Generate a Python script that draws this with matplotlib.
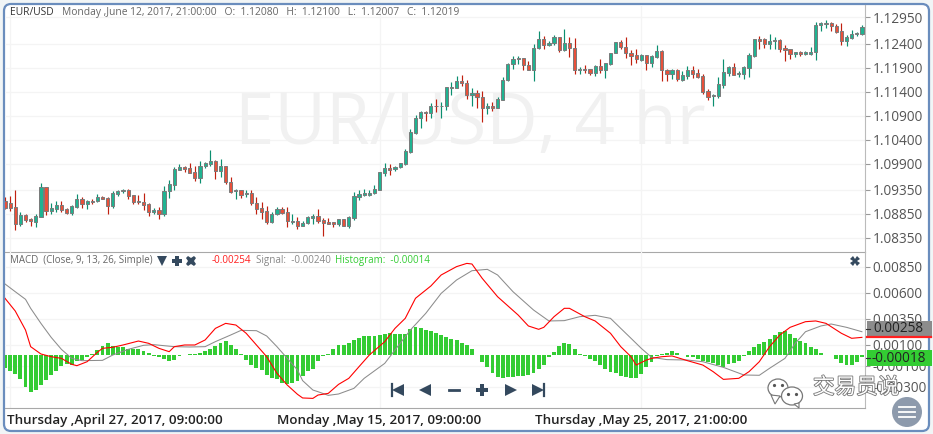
import numpy as np
import matplotlib
matplotlib.use('Agg')
import matplotlib.pyplot as plt
import matplotlib.patheffects as pe
from matplotlib.patches import FancyBboxPatch, Circle, Rectangle, Ellipse, Polygon
from matplotlib.transforms import ScaledTranslation

plt.rcParams['font.family'] = ['Open Sans', 'DejaVu Sans']

# precios (EUR/USD, 4 hr)
opens = [1.0912,1.0907,1.0899,1.0865,1.0883,1.0874,1.0869,1.0879,1.0941,1.0892,
         1.0895,1.0904,1.0895,1.0888,1.0900,1.0916,1.0906,1.0913,1.0913,1.0920,
         1.0918,1.0902,1.0927,1.0932,1.0936,1.0924,1.0912,1.0910,1.0905,1.0890,
         1.0893,1.0884,1.0932,1.0945,1.0977,1.0982,1.0980,1.0972,1.0961,1.0986,
         1.0990,1.0995,1.0975,1.0986,1.0951,1.0933,1.0934,1.0926,1.0928,1.0907,
         1.0897,1.0891,1.0869,1.0884,1.0895,1.0889,1.0868,1.0870,1.0861,1.0867,
         1.0877,1.0881,1.0872,1.0868,1.0868,1.0864,1.0874,1.0861,1.0877,1.0921,
         1.0925,1.0925,1.0928,1.0935,1.0971,1.0980,1.0979,1.0982,1.0990,1.1015,
         1.1054,1.1084,1.1097,1.1096,1.1111,1.1109,1.1111,1.1147,1.1148,1.1163,
         1.1157,1.1132,1.1138,1.1128,1.1105,1.1109,1.1105,1.1123,1.1165,1.1197,
         1.1207,1.1209,1.1195,1.1186,1.1230,1.1249,1.1238,1.1241,1.1253,1.1227,
         1.1241,1.1230,1.1186,1.1188,1.1188,1.1179,1.1193,1.1186,1.1198,1.1220,
         1.1243,1.1232,1.1220,1.1216,1.1206,1.1216,1.1200,1.1213,1.1225,1.1186,
         1.1177,1.1185,1.1164,1.1173,1.1186,1.1178,1.1172,1.1142,1.1130,1.1131,
         1.1154,1.1179,1.1191,1.1176,1.1177,1.1190,1.1215,1.1249,1.1249,1.1239,
         1.1245,1.1247,1.1230,1.1228,1.1218,1.1222,1.1219,1.1219,1.1222,1.1278,
         1.1280,1.1283,1.1277,1.1266,1.1245,1.1252,1.1259,1.1261]
highs = [1.0920,1.0922,1.0935,1.0889,1.0886,1.0876,1.0886,1.0950,1.0941,1.0907,
         1.0912,1.0912,1.0897,1.0903,1.0927,1.0921,1.0914,1.0916,1.0927,1.0922,
         1.0921,1.0932,1.0934,1.0938,1.0937,1.0925,1.0925,1.0929,1.0907,1.0898,
         1.0899,1.0943,1.0956,1.0982,1.0989,1.0986,1.0991,1.0984,1.0995,1.0994,
         1.1018,1.0998,1.1000,1.0986,1.0963,1.0938,1.0936,1.0934,1.0935,1.0921,
         1.0909,1.0902,1.0890,1.0899,1.0900,1.0900,1.0885,1.0879,1.0870,1.0881,
         1.0886,1.0895,1.0876,1.0876,1.0868,1.0875,1.0875,1.0881,1.0931,1.0936,
         1.0937,1.0936,1.0945,1.0972,1.0991,1.0989,1.0985,1.0991,1.1020,1.1062,
         1.1091,1.1100,1.1100,1.1117,1.1125,1.1119,1.1149,1.1161,1.1172,1.1175,
         1.1164,1.1147,1.1143,1.1142,1.1116,1.1118,1.1128,1.1170,1.1199,1.1214,
         1.1214,1.1211,1.1203,1.1239,1.1266,1.1256,1.1246,1.1258,1.1254,1.1270,
         1.1253,1.1252,1.1192,1.1195,1.1188,1.1195,1.1207,1.1199,1.1221,1.1243,
         1.1247,1.1254,1.1227,1.1229,1.1218,1.1216,1.1216,1.1237,1.1227,1.1188,
         1.1187,1.1187,1.1182,1.1193,1.1194,1.1187,1.1177,1.1145,1.1135,1.1170,
         1.1208,1.1194,1.1200,1.1182,1.1193,1.1220,1.1249,1.1256,1.1251,1.1260,
         1.1253,1.1250,1.1237,1.1229,1.1223,1.1225,1.1225,1.1232,1.1286,1.1284,
         1.1289,1.1284,1.1280,1.1282,1.1258,1.1268,1.1265,1.1279]
lows = [1.0895,1.0892,1.0852,1.0859,1.0869,1.0859,1.0857,1.0879,1.0883,1.0886,
        1.0890,1.0890,1.0885,1.0883,1.0897,1.0897,1.0895,1.0906,1.0909,1.0916,
        1.0886,1.0897,1.0923,1.0928,1.0916,1.0906,1.0906,1.0893,1.0881,1.0886,
        1.0875,1.0881,1.0918,1.0935,1.0977,1.0973,1.0971,1.0954,1.0949,1.0980,
        1.0986,1.0958,1.0963,1.0948,1.0929,1.0916,1.0918,1.0920,1.0903,1.0885,
        1.0875,1.0865,1.0867,1.0882,1.0885,1.0858,1.0864,1.0854,1.0860,1.0865,
        1.0864,1.0867,1.0839,1.0864,1.0858,1.0861,1.0861,1.0856,1.0872,1.0914,
        1.0923,1.0923,1.0927,1.0934,1.0965,1.0966,1.0975,1.0980,1.0987,1.1013,
        1.1052,1.1065,1.1079,1.1086,1.1098,1.1084,1.1102,1.1132,1.1147,1.1152,
        1.1124,1.1109,1.1105,1.1077,1.1093,1.1100,1.1105,1.1123,1.1163,1.1187,
        1.1198,1.1184,1.1184,1.1163,1.1228,1.1229,1.1234,1.1238,1.1223,1.1225,
        1.1213,1.1177,1.1177,1.1179,1.1175,1.1172,1.1179,1.1169,1.1196,1.1220,
        1.1229,1.1211,1.1196,1.1199,1.1204,1.1185,1.1192,1.1209,1.1163,1.1163,
        1.1166,1.1163,1.1162,1.1167,1.1168,1.1168,1.1136,1.1123,1.1110,1.1127,
        1.1147,1.1172,1.1175,1.1171,1.1166,1.1170,1.1212,1.1228,1.1230,1.1229,
        1.1229,1.1223,1.1204,1.1208,1.1213,1.1215,1.1216,1.1216,1.1206,1.1266,
        1.1273,1.1266,1.1263,1.1237,1.1235,1.1249,1.1256,1.1257]
closes = [1.0897,1.0898,1.0865,1.0883,1.0872,1.0870,1.0880,1.0941,1.0892,1.0897,
          1.0904,1.0893,1.0888,1.0902,1.0916,1.0906,1.0913,1.0911,1.0920,1.0917,
          1.0902,1.0928,1.0932,1.0936,1.0923,1.0911,1.0909,1.0904,1.0890,1.0893,
          1.0884,1.0932,1.0947,1.0978,1.0982,1.0979,1.0971,1.0961,1.0986,1.0991,
          1.0995,1.0975,1.0986,1.0951,1.0931,1.0934,1.0925,1.0928,1.0907,1.0895,
          1.0890,1.0869,1.0884,1.0895,1.0888,1.0870,1.0870,1.0861,1.0867,1.0878,
          1.0881,1.0871,1.0867,1.0865,1.0865,1.0874,1.0861,1.0878,1.0922,1.0926,
          1.0929,1.0929,1.0937,1.0972,1.0980,1.0977,1.0982,1.0991,1.1016,1.1055,
          1.1084,1.1097,1.1095,1.1111,1.1109,1.1111,1.1149,1.1149,1.1163,1.1157,
          1.1132,1.1138,1.1128,1.1105,1.1109,1.1105,1.1124,1.1165,1.1197,1.1207,
          1.1209,1.1195,1.1186,1.1230,1.1249,1.1238,1.1241,1.1253,1.1227,1.1241,
          1.1230,1.1186,1.1188,1.1186,1.1179,1.1193,1.1186,1.1199,1.1220,1.1243,
          1.1232,1.1220,1.1215,1.1207,1.1216,1.1200,1.1214,1.1225,1.1186,1.1177,
          1.1185,1.1166,1.1175,1.1186,1.1177,1.1170,1.1140,1.1129,1.1133,1.1155,
          1.1180,1.1191,1.1175,1.1179,1.1191,1.1216,1.1249,1.1246,1.1239,1.1245,
          1.1247,1.1229,1.1227,1.1218,1.1222,1.1219,1.1222,1.1222,1.1278,1.1282,
          1.1282,1.1276,1.1265,1.1245,1.1253,1.1259,1.1263,1.1274]

# histograma MACD, una barra por vela
histogram = [-.00118,-.0015,-.00182,-.0023,-.00306,-.00351,-.00332,-.00287,-.00236,-.00185,
             -.00147,-.00102,-.00083,-.00089,-.00057,-.00045,-.00013,.0001,.00051,.00089,
             .00115,.00086,.00083,.00077,.00064,.00057,.00057,.00045,.00019,-.00003,
             -.00013,-.00038,-.00054,-.00041,-.0001,.00006,.00013,.00016,.00026,.00038,
             .00064,.00089,.00115,.00137,.00102,.00064,.00016,-.00045,-.00089,-.00121,
             -.0014,-.00185,-.00217,-.0023,-.00262,-.00271,-.00262,-.00242,-.00198,-.00147,
             -.00128,-.00051,-.00006,.00013,.00064,.00096,.00096,.00115,.0015,.00166,
             .00182,.00185,.00188,.00198,.00204,.00211,.00207,.00207,.00207,.00252,
             .00268,.00258,.00242,.0023,.00217,.00198,.00175,.0016,.00144,.00121,
             .00102,.00064,.00006,-.00064,-.00115,-.00169,-.00211,-.00217,-.00207,-.00207,
             -.00201,-.00198,-.00185,-.00166,-.00128,-.00089,-.00019,.00032,.00089,.00121,
             .00112,.00057,.00016,-.00006,-.00038,-.00051,-.00096,-.00134,-.0016,-.00172,
             -.00198,-.00207,-.00217,-.00217,-.00175,-.00112,-.00064,-.00003,.00013,.00026,
             .00045,.00019,.00003,-.00013,-.00019,-.00032,-.00051,-.00064,-.00077,-.00089,
             -.00108,-.00083,-.00077,-.00051,-.0001,.00045,.00083,.00108,.00128,.0016,
             .00198,.00223,.0023,.00204,.00166,.0014,.00115,.00083,.00057,.00019,
             .00006,.00003,-.00038,-.0007,-.00089,-.00089,-.00064,-.00018]

# linea MACD (roja) y signal (gris): numero de vela y valor
macd_bar = [0,2,4,5,7,9,11,13,14,16,18,19,21,23,26,28,30,32,33,35,37,39,41,43,45,47,49,51,53,55,57,58,60,
            61,63,65,67,69,71,74,76,78,80,83,85,88,90,91,93,96,100,102,104,105,107,109,110,113,115,118,120,
            122,123,125,126,128,130,133,136,138,140,143,145,147,149,151,153,156,158,160,163,165,167]
macd_val = [.00546,.00424,.00242,.00083,.00013,-.00013,-.00029,-.00086,-.00099,-.00061,.00029,.00067,.00077,.00099,.00137,.00115,.00067,.00035,.00083,.00099,.00099,.00147,.00258,.00306,.0029,.00211,.00099,-.00013,-.00172,-.00284,-.00373,-.00408,-.00412,
            -.0038,-.00364,-.00278,-.0022,-.00108,.00003,.00131,.00258,.00354,.00546,.00664,.00769,.00849,.0088,.00874,.00737,.00561,.00386,.00281,.00249,.00268,.0037,.0045,.0045,.0037,.00329,.00211,.00083,
            -.00013,-.00093,-.00045,-.00029,-.00013,-.00006,-.00051,-.00093,-.00156,-.0023,-.0022,-.00156,-.00061,.00083,.00195,.00268,.00322,.00329,.00306,.00211,.00163,.00172]
signal_bar = [0,2,4,5,7,9,11,13,15,19,21,24,27,29,33,36,39,41,44,46,49,51,53,55,57,58,60,
              61,63,65,68,70,74,76,79,82,85,88,91,94,96,99,103,106,109,112,115,118,120,
              122,124,126,129,133,136,140,144,147,149,152,154,156,159,161,164,167]
signal_val = [.00683,.00609,.00536,.0045,.00306,.00172,.00057,-.00029,-.00051,-.00048,.00003,.00057,.00096,.00102,.00083,.0008,.00083,.00131,.00195,.00239,.00236,.00185,.00083,-.00029,-.0014,-.00242,-.00332,
              -.00348,-.00383,-.0037,-.00316,-.0022,-.00077,.00051,.00242,.00402,.00593,.00721,.0081,.00823,.00769,.00609,.00434,.00329,.00332,.0037,.00383,.00354,.00258,
              .00163,.00067,-.00019,-.00041,-.00045,-.00061,-.00115,-.00188,-.00191,-.00124,-.00029,.00115,.00226,.00281,.003,.00268,.00226]

price_ticks = [1.08350, 1.08850, 1.09350, 1.09900, 1.10400, 1.10900, 1.11400, 1.11900, 1.12400, 1.12950]
macd_ticks = [-0.00300, -0.00100, 0.00100, 0.00350, 0.00600, 0.00850]
date_ticks = [1, 73, 124]
date_labels = ['Thursday ,April 27, 2017, 09:00:00', 'Monday ,May 15, 2017, 09:00:00', 'Thursday ,May 25, 2017, 21:00:00']

W, H = 933, 434
fig = plt.figure(figsize=(W / 100, H / 100), dpi=100, facecolor='#f1f5f6')


def pane(left, top, right, bottom):
    return fig.add_axes([left / W, 1 - bottom / H, (right - left) / W, (bottom - top) / H])


# marco azul redondeado
back = fig.add_axes([0, 0, 1, 1], zorder=0)
back.set_xlim(0, W)
back.set_ylim(H, 0)
back.axis('off')
back.add_patch(FancyBboxPatch((4, 4), W - 8, H - 7, boxstyle='round,pad=0,rounding_size=7', fc='white', ec='#6a8dbd', lw=1.6))

ax = pane(5, 5, 865, 252)
ax2 = pane(5, 252, 865, 408)
for a in (ax, ax2):
    a.set_zorder(1)
    a.patch.set_alpha(0)
    a.set_xlim(0, 167.6)
    a.yaxis.tick_right()
    a.grid(True, color='#f4f4f4', lw=0.9)
    a.set_axisbelow(True)
    a.tick_params(axis='y', length=3.6, width=0.8, color='#999999', labelcolor='#555555', labelsize=9.8, pad=2)
    for s in ('top', 'left'):
        a.spines[s].set_visible(False)
    a.spines['right'].set_color('#bbbbbb')
    a.spines['bottom'].set_color('#a8a8a8')
    a.set_xticks(date_ticks)

# velas
o, h, l, c = map(np.array, (opens, highs, lows, closes))
idx = np.arange(len(o))
up = c >= o
ax.vlines(idx[up], l[up], h[up], color='#0b8f6f', lw=0.85, zorder=2)
ax.vlines(idx[~up], l[~up], h[~up], color='#c0200f', lw=0.85, zorder=2)
ax.bar(idx[up], (c - o)[up], bottom=o[up], width=0.62, color='#1fb391', edgecolor='#7a7a7a', lw=0.7, zorder=3)
ax.bar(idx[~up], (o - c)[~up], bottom=c[~up], width=0.62, color='#e8503a', edgecolor='#7a7a7a', lw=0.7, zorder=3)
ax.set_ylim(1.08058, 1.13204)
ax.set_yticks(price_ticks, ['%.5f' % t for t in price_ticks])
ax.tick_params(axis='x', length=0, labelbottom=False)
ax.text(0.5415, 0.515, 'EUR/USD, 4 hr', transform=ax.transAxes, ha='center', va='center',
        fontsize=51, color='#f1f1f1', zorder=1)

# panel MACD
ax2.bar(idx, histogram, width=0.76, color='#33cc33', lw=0, zorder=2)
ax2.plot(signal_bar, signal_val, color='#8c8c8c', lw=0.75, zorder=3)
ax2.plot(macd_bar, macd_val, color='#ff0000', lw=0.8, zorder=4)
ax2.set_ylim(-0.00504, 0.00989)
ax2.set_yticks(macd_ticks, ['%.5f' % t for t in macd_ticks])
ax2.set_xticks(date_ticks, date_labels)
ax2.tick_params(axis='x', length=0, pad=4.5, labelsize=9.6, labelcolor='#222222')
first = ax2.get_xticklabels()[0]
first.set_ha('left')
first.set_transform(first.get_transform() + ScaledTranslation(-2 / 72, 0, fig.dpi_scale_trans))
for t in ax2.get_xticklabels():
    t.set_fontweight('semibold')

# capa superior en pixeles: cabeceras, iconos, etiquetas de valor
top = fig.add_axes([0, 0, 1, 1], zorder=5)
top.set_xlim(0, W)
top.set_ylim(H, 0)
top.axis('off')
top.patch.set_alpha(0)

top.text(10, 12.5, 'EUR/USD', fontsize=7.4, color='#333333', va='center')
top.text(62, 12.5, 'Monday ,June 12, 2017, 21:00:00   O:  1.12080   H:  1.12100   L:  1.12007   C:  1.12019',
         fontsize=7.4, color='#666666', va='center')
top.text(10, 260.5, 'MACD  (Close, 9, 13, 26, Simple)', fontsize=7.0, color='#666666', va='center')
top.text(212, 260.5, '-0.00254', fontsize=7.1, color='#ff2020', va='center')
top.text(256, 260.5, 'Signal:  -0.00240', fontsize=7.1, color='#888888', va='center')
top.text(335, 260.5, 'Histogram:  -0.00014', fontsize=7.0, color='#33cc33', va='center')

navy = '#34495e'
top.plot([162], [260.5], 'v', color=navy, ms=6.5, mew=0)
top.plot([176.5], [260.5], 'P', color=navy, ms=7.5, mew=0)
top.plot([191], [260.5], 'X', color=navy, ms=7.5, mew=0)
top.plot([855], [261], 'X', color=navy, ms=6.5, mew=0)

# botones de navegacion
top.plot([398], [389.5], '<', color=navy, ms=8.5, mew=0)
top.plot([392, 392], [383.5, 395.5], color=navy, lw=1.6)
top.plot([424.5], [389.5], '<', color=navy, ms=8.5, mew=0)
top.plot([449, 459], [389.5, 389.5], color=navy, lw=2)
top.plot([481.5], [389.5], 'P', color=navy, ms=9, mew=0)
top.plot([511], [389.5], '>', color=navy, ms=8.5, mew=0)
top.plot([538], [389.5], '>', color=navy, ms=8.5, mew=0)
top.plot([544, 544], [383.5, 395.5], color=navy, lw=1.6)

# etiquetas de ultimo valor
top.add_patch(Rectangle((866.5, 321), 65, 16, fc='#8c8c8c', ec='none'))
top.plot([866.5, 931], [337, 337], color='#ff2020', lw=1.6)
top.add_patch(Rectangle((866.5, 350), 65, 15.5, fc='#33cc33', ec='none'))
top.plot([866, 870], [329, 329], color='#333333', lw=0.8)
top.plot([866, 870], [358, 358], color='#333333', lw=0.8)
top.text(873, 329, '0.00258', fontsize=9.8, color='#222222', va='center')
top.text(871, 358, '-0.00018', fontsize=9.8, color='#222222', va='center')

# marca de agua: icono, texto y boton de menu
for (cx, cy, rx, ry) in [(778, 388, 10, 9), (792, 396, 10.5, 9)]:
    top.add_patch(Ellipse((cx, cy), 2 * rx, 2 * ry, fc='white', ec='#777777', lw=0.9))
top.add_patch(Polygon([[771, 395], [775, 404], [780, 396]], fc='white', ec='#777777', lw=0.8))
top.add_patch(Polygon([[794, 404], [799, 408], [799, 403]], fc='white', ec='#777777', lw=0.8))
top.plot([774, 782, 788, 796], [385, 385, 394, 394], ls='', marker='o', ms=1.3, color='#555555')
top.text(856, 387.5, '交易员说', family=['Noto Sans CJK SC', 'DejaVu Sans'], fontsize=15.5, ha='center', va='center',
         color='white', path_effects=[pe.withStroke(linewidth=1.2, foreground='#777777')])
top.add_patch(Circle((907, 412), 15, fc='#8d9aac', ec='none'))
for yy in (407, 412, 417):
    top.plot([899, 915], [yy, yy], color='white', lw=1.3)

fig.savefig('out.png', dpi=100, facecolor=fig.get_facecolor())
